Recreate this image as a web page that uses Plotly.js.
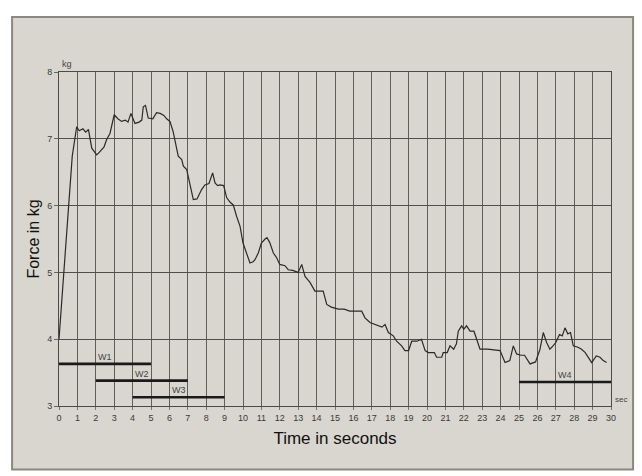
<!DOCTYPE html>
<html>
<head>
<meta charset="utf-8">
<script src="https://cdn.plot.ly/plotly-3.0.1.min.js"></script>
<style>html,body{margin:0;padding:0;background:#fff;}#chart{width:642px;height:476px;}</style>
</head>
<body>
<div id="chart"></div>
<script>
// Force trace (time in s, force in kg)
const timeSec = [0, 0.25, 0.47, 0.72, 0.96, 1.1, 1.3, 1.45, 1.6, 1.78, 1.95, 2.05, 2.2, 2.32, 2.45, 2.59, 2.77, 3.0, 3.2, 3.4, 3.6, 3.75, 3.91, 4.13, 4.35, 4.5, 4.58, 4.7, 4.85, 5.1, 5.3, 5.5, 5.7, 5.85, 6.03, 6.2, 6.35, 6.48, 6.67, 6.76, 6.94, 7.12, 7.3, 7.5, 7.75, 7.93, 8.15, 8.35, 8.48, 8.62, 8.75, 8.95, 9.11, 9.3, 9.47, 9.65, 9.84, 10.0, 10.2, 10.38, 10.55, 10.65, 10.83, 11.0, 11.2, 11.3, 11.45, 11.65, 11.83, 12.0, 12.28, 12.46, 12.7, 13.0, 13.19, 13.37, 13.64, 13.91, 14.36, 14.55, 14.8, 15.18, 15.5, 15.8, 16.45, 16.63, 16.9, 17.35, 17.55, 17.72, 17.9, 18.17, 18.35, 18.62, 18.8, 19.0, 19.17, 19.45, 19.7, 19.9, 20.07, 20.4, 20.52, 20.8, 20.88, 21.1, 21.25, 21.45, 21.6, 21.7, 21.88, 22.0, 22.15, 22.34, 22.55, 22.7, 22.88, 23.3, 23.97, 24.24, 24.5, 24.69, 24.87, 25.1, 25.3, 25.6, 25.9, 26.14, 26.32, 26.5, 26.68, 26.85, 27.0, 27.2, 27.35, 27.5, 27.65, 27.8, 27.95, 28.2, 28.4, 28.6, 28.8, 28.95, 29.2, 29.4, 29.58, 29.76];
const forceKg = [4.0, 4.9, 5.79, 6.74, 7.18, 7.12, 7.15, 7.1, 7.14, 6.86, 6.8, 6.76, 6.8, 6.84, 6.88, 6.99, 7.08, 7.36, 7.3, 7.26, 7.28, 7.25, 7.38, 7.23, 7.25, 7.28, 7.48, 7.5, 7.31, 7.3, 7.39, 7.38, 7.35, 7.3, 7.26, 7.11, 6.92, 6.74, 6.69, 6.59, 6.54, 6.29, 6.09, 6.1, 6.24, 6.31, 6.33, 6.49, 6.34, 6.3, 6.31, 6.3, 6.12, 6.05, 6.01, 5.84, 5.69, 5.44, 5.29, 5.14, 5.16, 5.19, 5.29, 5.44, 5.5, 5.52, 5.45, 5.29, 5.22, 5.12, 5.1, 5.04, 5.03, 5.0, 5.12, 4.94, 4.85, 4.72, 4.72, 4.52, 4.48, 4.45, 4.45, 4.42, 4.42, 4.32, 4.25, 4.2, 4.18, 4.22, 4.1, 4.05, 3.97, 3.9, 3.83, 3.83, 3.97, 3.97, 4.0, 3.83, 3.8, 3.8, 3.73, 3.73, 3.8, 3.8, 3.9, 3.85, 3.93, 4.12, 4.2, 4.15, 4.2, 4.12, 4.12, 4.0, 3.85, 3.85, 3.83, 3.65, 3.68, 3.9, 3.78, 3.76, 3.76, 3.63, 3.66, 3.85, 4.1, 3.95, 3.85, 3.9, 3.95, 4.07, 4.05, 4.17, 4.08, 4.1, 3.9, 3.88, 3.85, 3.8, 3.72, 3.65, 3.75, 3.73, 3.68, 3.65];

// Window bars
const windowNames = ["W1", "W2", "W3", "W4"];
const windowStart = [0, 2, 4, 25];
const windowEnd = [5, 7, 9, 30];
const windowLevel = [3.63, 3.38, 3.13, 3.36];

const xTicks = [0,1,2,3,4,5,6,7,8,9,10,11,12,13,14,15,16,17,18,19,20,21,22,23,24,25,26,27,28,29,30];
const yTicks = [3,4,5,6,7,8];

const traces = [{
  x: timeSec, y: forceKg, type: 'scatter', mode: 'lines',
  line: {color: '#2a2a28', width: 1.2}, hoverinfo: 'skip', showlegend: false
}];
windowNames.forEach((n, i) => {
  traces.push({
    x: [windowStart[i], windowEnd[i]], y: [windowLevel[i], windowLevel[i]],
    type: 'scatter', mode: 'lines', line: {color: '#1a1a1a', width: 2.6},
    showlegend: false, hoverinfo: 'skip'
  });
});

const annotations = windowNames.map((n, i) => ({
  x: (windowStart[i] + windowEnd[i]) / 2, y: windowLevel[i], text: n,
  xref: 'x', yref: 'y', showarrow: false, yanchor: 'bottom', yshift: 0,
  font: {family: 'Liberation Sans, Arial, sans-serif', size: 9, color: '#444'}
}));
annotations.push({x: 0, y: 8, xref: 'x', yref: 'y', text: 'kg', showarrow: false,
  xanchor: 'left', yanchor: 'bottom', xshift: 1, yshift: 1,
  font: {family: 'Liberation Sans, Arial, sans-serif', size: 9, color: '#444'}});
annotations.push({x: 30, y: 3, xref: 'x', yref: 'y', text: 'sec', showarrow: false,
  xanchor: 'left', yanchor: 'bottom', xshift: 2, yshift: 0,
  font: {family: 'Liberation Sans, Arial, sans-serif', size: 8, color: '#444'}});

const layout = {
  width: 642, height: 476,
  margin: {l: 59, r: 31, t: 72, b: 70},
  paper_bgcolor: '#ffffff',
  plot_bgcolor: '#dcd9d3',
  font: {family: 'Liberation Sans, Arial, sans-serif', color: '#333'},
  xaxis: {
    range: [0, 30], tickvals: xTicks, ticktext: xTicks.map(String),
    showgrid: true, gridcolor: '#5f5f5a', gridwidth: 1,
    showline: true, linecolor: '#4a4a46', linewidth: 1, mirror: true,
    ticks: 'outside', ticklen: 3, tickcolor: '#777',
    tickfont: {size: 9, color: '#3a3a3a'}, zeroline: false,
    title: {text: 'Time in seconds', font: {size: 17, color: '#111'}, standoff: 10}
  },
  yaxis: {
    range: [3, 8], tickvals: yTicks, ticktext: yTicks.map(String),
    showgrid: true, gridcolor: '#4f4f4a', gridwidth: 1,
    showline: true, linecolor: '#4a4a46', linewidth: 1, mirror: true,
    ticks: 'outside', ticklen: 4, tickcolor: '#666',
    tickfont: {size: 9, color: '#3a3a3a'}, zeroline: false,
    title: {text: 'Force in kg', font: {size: 16, color: '#111'}, standoff: 3}
  },
  shapes: [{
    type: 'rect', xref: 'paper', yref: 'paper', layer: 'below',
    x0: -0.085, x1: 1.04, y0: -0.19, y1: 1.165,
    fillcolor: '#d9d6d0', line: {color: '#8a8880', width: 2}
  }],
  annotations: annotations
};

Plotly.newPlot('chart', traces, layout, {staticPlot: true, displayModeBar: false});
</script>
</body>
</html>
